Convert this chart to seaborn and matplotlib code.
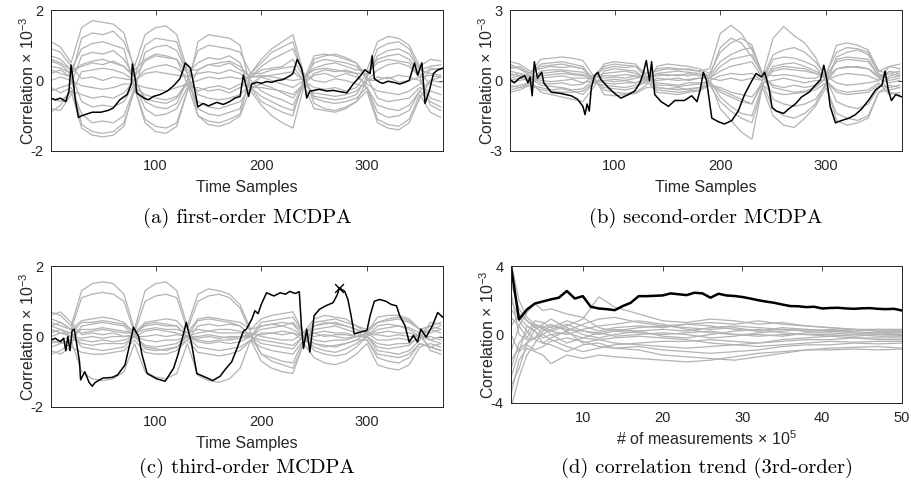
import numpy as np
import pandas as pd
import matplotlib
matplotlib.use('Agg')
import matplotlib.pyplot as plt
import seaborn as sns

# ---------------- data ----------------
# common time grid for the grey (wrong-key) traces
grid_t = [1, 10, 20, 30, 40, 50, 60, 70, 80, 90, 100, 110, 120, 130, 140, 150, 160, 170, 180,
          190, 200, 210, 220, 230, 240, 250, 260, 270, 280, 290, 300, 310, 320, 330, 340, 350, 360, 370]

# (a) first-order
a_black_t = [1, 5, 10, 15, 18, 20, 22, 24, 27, 30, 35, 40, 48, 55, 60, 66, 73, 77, 78, 81,
             82, 89, 93, 98, 104, 111, 117, 123, 126, 128, 133, 136, 140, 145, 150, 158, 164, 170, 175, 180,
             183, 186, 188, 191, 196, 200, 205, 210, 215, 220, 224, 228, 230, 234, 238, 240, 243, 246, 250, 255,
             262, 268, 275, 281, 287, 293, 298, 303, 305, 307, 312, 315, 320, 325, 331, 336, 340, 345, 348, 352,
             355, 359, 363, 367, 372]
a_black_v = [-0.5, -0.55, -0.5, -0.6, -0.3, 0.44, 0.0, -0.55, -1.05, -1.0, -0.95, -0.9, -0.9, -0.85, -0.78, -0.55, -0.4, -0.1, 0.47, 0.0,
             -0.35, -0.5, -0.55, -0.45, -0.4, -0.3, -0.15, 0.05, 0.3, 0.5, 0.35, -0.1, -0.75, -0.65, -0.72, -0.62, -0.68, -0.6, -0.5, -0.45,
             0.15, -0.2, -0.45, -0.1, -0.05, -0.08, -0.03, -0.05, 0.0, 0.02, 0.08, 0.15, 0.2, 0.6, 0.35, 0.1, -0.5, -0.3, -0.28, -0.25,
             -0.3, -0.28, -0.32, -0.35, -0.1, 0.1, 0.3, 0.2, 0.7, 0.05, -0.05, -0.08, -0.02, -0.05, -0.1, -0.05, 0.0, 0.5, 0.15, 0.5,
             -0.65, -0.3, 0.2, 0.3, 0.35]
a_gray = [
    [1.1, 0.95, 0.5, 1.5, 1.7, 1.65, 1.6, 1.35, 0.3, 0.6, 0.75, 0.7, 0.6, -0.1, -1.0, -1.15, -1.2, -1.1, -0.95, 0.2, 0.5, 0.8, 0.95, 1.1, 0.1, -0.45, -0.5, -0.55, -0.5, -0.4, 0.1, 0.7, 0.85, 0.9, 0.75, 0.3, 0.2, 0.15],
    [0.2, 0.3, 0.1, 1.2, 1.35, 1.3, 1.4, 1.1, 0.4, 1.3, 1.5, 1.55, 1.3, 0.3, 0.3, 0.45, 0.4, 0.5, 0.3, 0.1, 0.3, 0.35, 0.4, 0.6, 0.1, 0.3, 0.35, 0.3, 0.25, 0.2, -0.2, -0.9, -1.05, -1.0, -0.85, -0.3, -0.6, -0.75],
    [0.7, 0.6, 0.3, 0.9, 1.05, 1.1, 1.0, 0.9, -0.2, -1.2, -1.45, -1.5, -1.3, -0.3, 1.1, 1.3, 1.25, 1.2, 1.0, -0.2, -0.6, -0.75, -0.9, -1.0, 0.05, 0.35, 0.45, 0.5, 0.4, 0.3, 0.3, 1.1, 1.25, 1.2, 1.0, 0.4, 0.6, 0.55],
    [-0.3, -0.2, -0.1, 0.7, 0.8, 0.75, 0.85, 0.6, 0.1, 0.55, 0.7, 0.65, 0.6, 0.2, 0.5, 0.65, 0.6, 0.7, 0.5, -0.3, -0.7, -1.0, -1.2, -1.35, -0.2, 0.6, 0.7, 0.75, 0.65, 0.5, 0.1, -0.5, -0.6, -0.55, -0.5, -0.2, -0.3, -0.4],
    [0.4, 0.35, 0.2, 0.45, 0.55, 0.6, 0.5, 0.4, 0.1, 1.0, 1.2, 1.15, 1.1, 0.2, -0.8, -0.95, -1.0, -0.9, -0.8, 0.1, 0.4, 0.6, 0.75, 0.9, 0.2, -0.65, -0.8, -0.85, -0.75, -0.6, 0.0, 0.3, 0.45, 0.5, 0.4, 0.1, 0.15, 0.1],
    [-0.8, -0.85, -0.4, 0.25, 0.3, 0.35, 0.3, 0.2, 0.0, -0.5, -0.6, -0.65, -0.5, 0.0, 0.85, 1.0, 0.95, 0.9, 0.8, 0.2, 0.2, 0.3, 0.35, 0.4, 0.0, -0.2, -0.25, -0.2, -0.3, -0.2, 0.2, 0.6, 0.7, 0.75, 0.6, 0.2, -0.1, -0.2],
    [0.9, 0.8, 0.4, 0.05, 0.1, 0.0, 0.1, 0.05, 0.0, 0.2, 0.25, 0.2, 0.15, 0.1, 0.2, 0.25, 0.2, 0.3, 0.2, 0.0, -0.3, -0.45, -0.55, -0.7, -0.1, 0.15, 0.2, 0.1, 0.2, 0.1, -0.1, -0.3, -0.35, -0.4, -0.3, -0.1, 0.3, 0.35],
    [0.0, 0.1, 0.0, -0.15, -0.2, -0.25, -0.2, -0.1, -0.1, -0.8, -1.0, -0.95, -0.8, -0.2, -0.2, -0.3, -0.25, -0.35, -0.2, 0.2, 0.6, 0.9, 1.1, 1.3, 0.2, 0.0, -0.05, 0.05, 0.0, -0.1, -0.2, -1.1, -1.25, -1.3, -1.1, -0.4, -0.9, -1.05],
    [-0.5, -0.6, -0.3, -0.4, -0.5, -0.45, -0.5, -0.35, 0.0, 0.3, 0.4, 0.45, 0.35, 0.1, -0.4, -0.5, -0.55, -0.5, -0.4, -0.1, 0.1, 0.15, 0.2, 0.25, 0.0, 0.5, 0.6, 0.55, 0.5, 0.4, 0.1, 0.9, 1.05, 1.1, 0.9, 0.3, 0.4, 0.45],
    [0.55, 0.45, 0.2, -0.6, -0.75, -0.7, -0.75, -0.6, -0.1, -0.2, -0.25, -0.3, -0.2, -0.1, -0.6, -0.75, -0.8, -0.7, -0.6, -0.2, -0.45, -0.6, -0.75, -0.85, -0.1, -0.35, -0.4, -0.45, -0.4, -0.3, 0.0, 0.1, 0.05, 0.15, 0.1, 0.0, -0.5, -0.6],
    [-0.2, -0.35, -0.2, -0.95, -1.2, -1.15, -1.2, -1.0, -0.2, -0.4, -0.5, -0.55, -0.45, -0.1, 0.0, 0.1, 0.05, 0.1, 0.05, 0.1, 0.15, 0.1, 0.05, 0.0, 0.05, -0.5, -0.6, -0.65, -0.6, -0.5, -0.2, -0.7, -0.8, -0.85, -0.7, -0.3, 0.0, -0.05],
    [0.3, 0.2, 0.1, -1.25, -1.45, -1.5, -1.45, -1.2, -0.3, 0.8, 0.95, 1.0, 0.85, 0.2, -1.0, -1.25, -1.3, -1.2, -1.0, -0.2, -0.2, -0.25, -0.3, -0.4, -0.1, 0.2, 0.3, 0.25, 0.3, 0.2, 0.2, 0.5, 0.6, 0.55, 0.5, 0.1, 0.35, 0.3],
    [-0.9, -0.7, -0.3, -1.35, -1.55, -1.6, -1.55, -1.3, -0.2, -1.1, -1.3, -1.35, -1.2, -0.3, 0.3, 0.45, 0.5, 0.55, 0.4, 0.1, 0.1, 0.0, -0.1, -0.2, 0.0, 0.7, 0.75, 0.7, 0.6, 0.5, 0.0, 0.0, 0.1, -0.05, 0.0, 0.1, -0.7, -0.85],
    [0.6, 0.5, 0.3, 0.4, 0.5, 0.45, 0.55, 0.4, 0.1, -0.6, -0.75, -0.8, -0.65, 0.0, -0.3, -0.2, -0.15, -0.25, -0.1, -0.2, -0.1, -0.2, -0.35, -0.5, -0.1, -0.8, -0.85, -0.9, -0.8, -0.6, -0.3, -1.2, -1.35, -1.4, -1.2, -0.5, 0.0, 0.1],
]

# (b) second-order
b_black_t = [1, 5, 10, 15, 18, 20, 22, 24, 27, 31, 33, 40, 49, 59, 65, 70, 72, 74, 76, 78,
             81, 84, 87, 94, 100, 106, 113, 119, 124, 127, 130, 133, 135, 138, 144, 151, 157, 166, 173, 178,
             181, 184, 187, 192, 198, 204, 211, 217, 223, 230, 234, 239, 242, 246, 249, 253, 260, 265, 271, 277,
             284, 290, 295, 298, 301, 304, 309, 315, 322, 328, 334, 341, 347, 353, 356, 359, 362, 366, 372]
b_black_v = [0.05, -0.1, 0.1, 0.2, -0.1, 0.15, -0.65, 0.8, 0.1, 0.35, -0.1, -0.5, -0.55, -0.65, -0.8, -1.1, -1.45, -1.0, -1.3, -0.3,
             0.2, 0.35, 0.05, -0.3, -0.55, -0.75, -0.6, -0.45, -0.1, 0.3, 0.85, 0.0, 0.8, -0.6, -0.9, -1.1, -0.85, -0.85, -0.65, -0.9,
             -0.4, 0.35, 0.0, -1.6, -1.75, -1.85, -1.7, -1.3, -0.6, 0.0, 0.3, 0.15, 0.35, -0.3, -1.15, -1.3, -1.4, -1.2, -1.0, -0.7,
             -0.5, -0.2, 0.05, 0.65, 0.0, -1.1, -1.8, -1.7, -1.6, -1.45, -1.2, -0.8, -0.4, -0.2, 0.4, -0.4, -0.85, -0.6, -0.7]
b_gray = [
    [0.5, 0.6, 0.3, 0.9, 0.95, 1.0, 0.95, 0.85, 0.2, 0.5, 0.6, 0.55, 0.6, 0.3, 0.4, 0.5, 0.45, 0.5, 0.4, 0.5, 2.0, 2.35, 2.0, 1.3, 0.3, -0.3, -0.4, -0.5, -0.45, -0.3, 0.1, 0.5, 0.6, 0.55, 0.5, 0.2, 0.3, 0.4],
    [0.8, 0.7, 0.4, 0.5, 0.6, 0.55, 0.6, 0.5, 0.1, 0.7, 0.8, 0.75, 0.7, 0.2, -0.3, -0.35, -0.3, -0.4, -0.3, 0.0, -1.2, -1.7, -2.2, -2.5, -0.2, 0.5, 0.6, 0.55, 0.5, 0.3, 0.2, 1.5, 1.6, 1.5, 1.3, 0.4, 0.6, 0.5],
    [0.2, 0.3, 0.1, 0.3, 0.35, 0.4, 0.3, 0.25, 0.0, -0.4, -0.5, -0.55, -0.5, -0.2, 0.6, 0.7, 0.65, 0.6, 0.5, 0.3, 1.2, 1.6, 1.8, 1.5, 0.2, 1.8, 2.3, 1.9, 1.6, 1.0, 0.0, -0.5, -0.6, -0.55, -0.5, -0.2, -0.3, -0.2],
    [-0.3, -0.2, -0.1, 0.1, 0.15, 0.2, 0.1, 0.1, 0.1, 0.3, 0.35, 0.4, 0.3, 0.1, 0.2, 0.25, 0.2, 0.3, 0.2, 0.2, 0.8, 1.1, 1.3, 1.4, 0.3, -0.8, -1.0, -1.1, -1.0, -0.8, -0.2, 1.0, 1.2, 1.3, 1.1, 0.3, 0.0, 0.1],
    [0.4, 0.3, 0.2, -0.1, -0.15, -0.1, -0.2, -0.15, 0.2, 0.1, 0.15, 0.1, 0.2, 0.0, -0.5, -0.55, -0.6, -0.5, -0.45, -0.2, -0.9, -1.3, -1.6, -1.8, -0.3, -1.5, -1.9, -2.0, -1.6, -1.1, -0.3, -1.4, -1.6, -1.7, -1.5, -0.5, -0.4, -0.3],
    [-0.5, -0.4, -0.2, -0.3, -0.4, -0.35, -0.45, -0.6, -0.1, -0.2, -0.25, -0.3, -0.2, -0.1, 0.1, 0.05, 0.1, 0.0, 0.1, 0.1, 0.4, 0.6, 0.7, 0.8, 0.1, 1.1, 1.3, 1.4, 1.2, 0.8, 0.2, 0.8, 0.9, 0.85, 0.8, 0.2, -0.5, -0.6],
    [0.6, 0.5, 0.3, 0.7, 0.75, 0.8, 0.7, 0.6, 0.0, 0.0, 0.05, 0.0, 0.1, 0.2, -0.1, -0.15, -0.2, -0.1, -0.1, -0.1, -0.5, -0.7, -0.9, -1.0, 0.0, 0.4, 0.5, 0.45, 0.4, 0.3, 0.1, -0.9, -1.1, -1.2, -1.0, -0.3, 0.2, 0.3],
    [0.0, 0.1, 0.0, -0.5, -0.6, -0.7, -0.8, -0.9, -0.3, 0.4, 0.5, 0.45, 0.4, 0.0, 0.3, 0.35, 0.4, 0.35, 0.3, 0.0, 0.2, 0.3, 0.25, 0.3, 0.0, 0.9, 1.0, 0.95, 0.8, 0.6, 0.0, 0.2, 0.3, 0.25, 0.2, 0.0, 0.6, 0.7],
    [-0.2, -0.3, -0.1, 0.2, 0.25, 0.3, 0.25, 0.2, 0.2, -0.6, -0.65, -0.6, -0.55, -0.3, -0.3, -0.35, -0.4, -0.35, -0.3, -0.2, -0.3, -0.5, -0.6, -0.7, -0.1, -1.2, -1.5, -1.6, -1.4, -1.0, -0.1, -1.7, -1.9, -1.8, -1.6, -0.5, -0.2, -0.3],
    [0.3, 0.2, 0.2, 0.6, 0.65, 0.7, 0.6, 0.5, 0.0, -0.1, -0.15, -0.1, -0.1, 0.0, 0.5, 0.55, 0.5, 0.45, 0.4, 0.2, 1.4, 1.8, 1.6, 1.0, 0.3, 0.2, 0.25, 0.2, 0.1, 0.1, 0.3, 1.2, 1.4, 1.35, 1.2, 0.4, 0.3, 0.2],
    [-0.1, 0.0, 0.1, -0.2, -0.25, -0.3, -0.4, -0.35, 0.0, 0.6, 0.7, 0.65, 0.6, 0.1, -0.2, -0.2, -0.25, -0.2, -0.15, 0.0, -0.7, -1.1, -1.4, -1.5, -0.2, -0.5, -0.6, -0.55, -0.5, -0.4, -0.1, 0.5, 0.55, 0.6, 0.5, 0.1, -0.1, 0.0],
    [0.1, 0.2, 0.0, 0.4, 0.45, 0.45, 0.4, 0.35, 0.1, 0.2, 0.2, 0.25, 0.2, 0.1, 0.0, 0.05, 0.0, 0.05, 0.1, 0.1, 0.0, 0.1, 0.0, 0.1, 0.0, 0.6, 0.7, 0.75, 0.6, 0.4, 0.2, -0.1, -0.2, -0.15, -0.1, 0.0, 0.4, 0.3],
    [0.7, 0.5, 0.2, 0.0, -0.05, 0.0, 0.05, -0.1, 0.0, -0.3, -0.35, -0.4, -0.3, 0.0, 0.3, 0.2, 0.25, 0.2, 0.3, 0.1, 0.6, 0.9, 1.0, 1.1, 0.2, -0.2, -0.3, -0.2, -0.3, -0.2, 0.1, 0.9, 1.0, 0.95, 0.9, 0.2, 0.1, 0.2],
    [-0.4, -0.3, -0.2, -0.4, -0.45, -0.5, -0.5, -0.45, -0.1, 0.0, -0.05, 0.0, -0.1, 0.1, -0.4, -0.45, -0.5, -0.45, -0.4, -0.1, -0.4, -0.6, -0.8, -1.0, -0.1, 0.0, 0.1, 0.0, -0.1, 0.0, 0.0, -0.4, -0.5, -0.45, -0.4, -0.1, -0.6, -0.5],
]

# (c) third-order
c_black_t = [1, 5, 10, 13, 15, 17, 19, 21, 23, 26, 28, 29, 33, 37, 40, 43, 50, 59, 64, 71,
             76, 79, 84, 87, 92, 101, 109, 117, 121, 126, 129, 134, 139, 149, 154, 161, 166, 172, 177, 183,
             186, 191, 194, 197, 200, 205, 212, 218, 223, 227, 232, 236, 238, 240, 243, 246, 250, 255, 261, 268,
             272, 274, 279, 282, 285, 288, 293, 300, 303, 307, 312, 318, 323, 328, 331, 336, 340, 344, 348, 351,
             356, 362, 367, 372]
c_black_v = [-0.1, -0.05, -0.15, -0.05, -0.4, 0.0, -0.4, 0.17, 0.21, -0.34, -0.72, -1.23, -1.0, -1.3, -1.41, -1.3, -1.18, -1.16, -1.09, -0.81,
             -0.16, 0.26, 0.0, -0.5, -1.05, -1.2, -1.27, -0.9, -0.53, 0.03, 0.4, -0.2, -1.05, -1.18, -1.25, -1.13, -0.93, -0.72, -0.34, 0.15,
             0.21, 0.49, 0.73, 0.65, 0.91, 1.24, 1.15, 1.24, 1.2, 1.28, 1.22, 1.27, 0.3, -0.34, 0.21, -0.44, 0.59, 0.77, 0.87, 0.96,
             1.19, 1.38, 1.28, 1.05, 0.59, 0.07, 0.12, 0.17, 0.59, 1.0, 1.05, 1.0, 0.91, 0.87, 0.59, 0.31, -0.16, 0.03, -0.16, 0.21,
             -0.02, 0.31, 0.68, 0.54]
c_peak_t = [274]
c_peak_v = [1.38]
c_gray = [
    [0.7, 0.6, 0.3, 1.3, 1.5, 1.55, 1.5, 1.2, 0.2, 1.3, 1.5, 1.55, 1.3, 0.3, 1.2, 1.35, 1.3, 1.2, 0.9, 0.2, 0.3, 0.35, 0.3, 0.4, 0.1, -0.2, -0.3, -0.25, -0.2, -0.1, 0.1, 0.4, 0.45, 0.5, 0.4, 0.2, 0.3, 0.2],
    [0.3, 0.4, 0.2, 1.1, 1.2, 1.25, 1.2, 1.0, 0.1, 1.0, 1.15, 1.2, 1.1, 0.2, 1.0, 1.15, 1.2, 1.1, 0.8, 0.1, -0.5, -0.7, -0.8, -0.9, -0.2, 0.3, 0.4, 0.35, 0.3, 0.2, -0.1, -0.6, -0.7, -0.75, -0.6, -0.2, -0.3, -0.4],
    [-0.3, -0.2, -0.1, -1.0, -1.2, -1.25, -1.2, -1.0, -0.2, -1.0, -1.15, -1.2, -1.05, -0.2, -1.1, -1.25, -1.3, -1.2, -0.9, -0.1, -0.7, -0.9, -1.0, -1.05, -0.2, -0.6, -0.75, -0.8, -0.7, -0.5, -0.2, -0.8, -0.9, -0.95, -0.8, -0.3, -0.2, -0.3],
    [0.5, 0.4, 0.2, 0.45, 0.5, 0.55, 0.5, 0.4, 0.1, 0.4, 0.45, 0.5, 0.45, 0.1, 0.5, 0.55, 0.5, 0.45, 0.4, 0.2, 0.5, 0.6, 0.65, 0.7, 0.1, 0.5, 0.6, 0.55, 0.5, 0.3, 0.2, 0.4, 0.5, 0.55, 0.45, 0.2, 0.1, 0.2],
    [-0.5, -0.4, -0.2, 0.3, 0.35, 0.4, 0.35, 0.3, 0.0, -0.3, -0.35, -0.4, -0.3, -0.1, 0.3, 0.35, 0.3, 0.35, 0.3, 0.0, 0.2, 0.25, 0.3, 0.2, 0.0, -0.4, -0.5, -0.55, -0.5, -0.3, 0.0, 0.3, 0.35, 0.3, 0.25, 0.1, -0.4, -0.5],
    [0.2, 0.1, 0.0, 0.2, 0.2, 0.25, 0.2, 0.15, 0.1, 0.3, 0.35, 0.3, 0.3, 0.0, -0.3, -0.35, -0.4, -0.35, -0.3, -0.1, -0.3, -0.4, -0.45, -0.5, -0.1, 0.2, 0.25, 0.3, 0.2, 0.1, 0.0, -0.4, -0.45, -0.5, -0.4, -0.1, 0.4, 0.35],
    [0.6, 0.7, 0.4, 0.05, 0.1, 0.05, 0.1, 0.0, 0.0, 0.15, 0.2, 0.15, 0.1, 0.0, 0.1, 0.15, 0.1, 0.1, 0.1, 0.1, 0.0, -0.05, -0.1, -0.1, 0.1, 0.0, 0.05, 0.0, -0.05, 0.0, 0.1, 0.1, 0.15, 0.1, 0.1, 0.0, 0.0, -0.1],
    [-0.1, -0.2, -0.1, -0.1, -0.15, -0.1, -0.15, -0.1, 0.0, -0.1, -0.15, -0.1, -0.1, 0.0, 0.0, 0.05, 0.0, -0.05, 0.0, 0.0, 0.4, 0.45, 0.5, 0.55, 0.1, -0.1, -0.15, -0.1, -0.1, 0.0, 0.0, -0.2, -0.25, -0.2, -0.2, 0.0, 0.2, 0.1],
    [0.1, 0.2, 0.1, -0.3, -0.35, -0.4, -0.35, -0.3, 0.0, 0.0, 0.05, 0.0, 0.05, 0.0, -0.15, -0.2, -0.15, -0.2, -0.15, 0.0, -0.1, -0.15, -0.2, -0.25, 0.0, 0.4, 0.45, 0.5, 0.4, 0.3, 0.1, 0.55, 0.6, 0.6, 0.5, 0.2, -0.1, 0.0],
    [-0.4, -0.5, -0.3, -0.45, -0.5, -0.5, -0.45, -0.4, -0.1, -0.45, -0.5, -0.5, -0.4, -0.1, -0.45, -0.5, -0.55, -0.5, -0.4, -0.1, 0.1, 0.1, 0.15, 0.1, -0.1, -0.2, -0.25, -0.3, -0.2, -0.1, -0.1, -0.5, -0.55, -0.6, -0.5, -0.2, -0.3, -0.2],
    [0.4, 0.3, 0.2, 0.1, 0.15, 0.2, 0.15, 0.1, 0.1, 0.2, 0.25, 0.2, 0.2, 0.1, 0.2, 0.15, 0.2, 0.2, 0.15, 0.0, -0.5, -0.6, -0.7, -0.75, -0.1, 0.1, 0.15, 0.1, 0.1, 0.0, 0.0, 0.2, 0.25, 0.3, 0.2, 0.0, 0.2, 0.3],
    [-0.2, -0.1, 0.0, -0.2, -0.25, -0.2, -0.2, -0.2, 0.0, -0.25, -0.3, -0.25, -0.2, 0.0, -0.1, -0.15, -0.1, -0.1, -0.05, 0.0, 0.3, 0.35, 0.4, 0.35, 0.0, -0.3, -0.4, -0.45, -0.35, -0.2, 0.0, -0.3, -0.35, -0.3, -0.25, 0.0, -0.1, -0.2],
    [0.0, 0.1, 0.1, 0.4, 0.4, 0.45, 0.4, 0.35, 0.1, -0.35, -0.4, -0.35, -0.3, 0.0, 0.45, 0.5, 0.45, 0.4, 0.3, 0.0, -0.2, -0.25, -0.3, -0.35, 0.0, 0.3, 0.35, 0.4, 0.3, 0.2, 0.1, -0.1, -0.1, -0.05, -0.1, 0.1, 0.3, 0.4],
    [0.3, 0.2, 0.0, -0.05, 0.0, -0.05, 0.0, 0.0, 0.05, 0.35, 0.4, 0.35, 0.3, 0.0, -0.05, 0.0, -0.05, 0.0, 0.0, 0.05, 0.05, 0.1, 0.05, 0.1, 0.0, 0.1, 0.0, 0.05, 0.05, 0.0, 0.05, 0.05, 0.0, 0.05, 0.0, 0.0, -0.3, -0.4],
]

# (d) correlation trend vs number of measurements (x 10^5)
d_black_n = list(range(1, 51))
d_black_v = [4.0, 0.88, 1.46, 1.81, 1.93, 2.05, 2.15, 2.54, 2.1, 2.24, 1.62, 1.52, 1.48, 1.42, 1.66, 1.85, 2.24, 2.24, 2.26, 2.28,
             2.4, 2.35, 2.3, 2.44, 2.4, 2.15, 2.38, 2.28, 2.25, 2.19, 2.1, 2.0, 1.92, 1.85, 1.75, 1.66, 1.65, 1.6, 1.62, 1.52,
             1.55, 1.56, 1.52, 1.5, 1.53, 1.54, 1.5, 1.48, 1.5, 1.4]
d_grid_n = [1, 2, 3, 4, 5, 6, 8, 10, 12, 14, 17, 20, 23, 26, 29, 32, 35, 38, 41, 44, 47, 50]
d_gray = [
    [4.2, 2.0, 1.0, 0.6, 0.3, 0.2, 0.5, 0.9, 2.2, 1.6, 1.2, 0.8, 0.7, 0.9, 0.8, 0.6, 0.7, 0.5, 0.4, 0.3, 0.3, 0.3],
    [-3.5, -1.5, -0.8, -1.0, -1.2, -1.7, -1.2, -1.4, -1.2, -1.3, -1.4, -1.5, -1.6, -1.5, -1.3, -1.1, -1.0, -0.9, -0.9, -0.85, -0.9, -0.85],
    [2.0, 1.0, 0.5, 0.2, -0.2, 0.0, 0.1, -0.2, -0.3, -0.5, -0.6, -0.7, -0.8, -0.7, -0.6, -0.5, -0.4, -0.3, -0.3, -0.2, -0.2, -0.2],
    [-4.3, -2.5, -1.2, -0.5, 0.2, 0.5, 0.3, 0.2, 0.0, 0.2, 0.4, 0.5, 0.6, 0.7, 0.6, 0.8, 0.6, 0.5, 0.4, 0.3, 0.2, 0.1],
    [1.0, 0.5, 1.3, 1.8, 1.4, 1.5, 1.2, 1.0, 0.4, 0.2, 0.1, 0.0, 0.1, 0.2, 0.0, 0.0, -0.1, 0.1, 0.1, 0.0, 0.1, 0.0],
    [-2.5, -1.0, 0.5, 0.2, -0.5, -0.6, -1.0, -0.6, -0.5, -0.8, -0.9, -1.2, -1.3, -1.4, -1.5, -1.3, -1.1, -0.9, -0.8, -0.75, -0.7, -0.8],
    [3.0, 1.5, 0.8, 0.4, 0.6, 0.9, 0.4, 0.0, -0.2, 0.0, 0.2, 0.3, 0.2, 0.4, 0.5, 0.4, 0.3, 0.2, 0.2, 0.3, 0.2, 0.2],
    [-1.5, -0.8, -0.5, 0.3, 0.5, 0.2, 0.0, 0.3, 0.5, 0.6, 0.8, 0.6, 0.3, 0.1, 0.0, -0.1, 0.0, 0.0, -0.1, 0.0, -0.1, -0.1],
    [0.5, 1.2, 0.8, 0.5, 0.0, -0.3, -0.7, -1.0, -0.8, -0.6, -0.5, -0.4, -0.4, -0.3, -0.4, -0.5, -0.3, -0.2, -0.1, -0.2, -0.3, -0.3],
    [-3.0, -2.0, -0.5, -0.2, 0.0, 0.3, 0.6, 0.2, 0.1, -0.1, 0.0, 0.1, 0.0, -0.2, -0.1, 0.1, 0.2, 0.3, 0.2, 0.1, 0.0, 0.0],
    [2.5, 0.0, -0.3, -0.2, 0.4, 0.6, 0.2, -0.5, -0.3, -0.2, -0.1, -0.2, -0.3, -0.5, -0.6, -0.7, -0.6, -0.5, -0.4, -0.45, -0.4, -0.4],
    [-2.0, -0.5, 0.1, 0.8, 0.7, 0.4, 0.8, 0.5, 0.2, 0.4, 0.5, 0.4, 0.6, 0.5, 0.3, 0.2, 0.4, 0.3, 0.2, 0.15, 0.1, 0.1],
    [0.0, -1.0, -0.6, -0.9, -0.7, -0.4, -0.2, -0.4, -0.7, -0.8, -0.7, -0.9, -1.0, -1.1, -1.0, -0.9, -0.7, -0.6, -0.6, -0.5, -0.55, -0.5],
    [1.5, 0.8, 0.2, -0.3, -0.5, -0.2, 0.2, 0.6, 0.9, 1.0, 0.7, 0.5, 0.4, 0.3, 0.4, 0.2, 0.3, 0.2, 0.3, 0.2, 0.3, 0.2],
    [-1.0, 0.5, -0.2, 0.6, 0.4, 0.0, -0.5, -0.2, 0.1, 0.3, 0.2, -0.1, -0.2, 0.0, 0.2, 0.3, 0.1, 0.0, 0.0, -0.1, 0.0, -0.05],
]

captions = ['(a) first-order MCDPA', '(b) second-order MCDPA',
            '(c) third-order MCDPA', '(d) correlation trend (3rd-order)']

# ---------------- style ----------------
sns.set_style('white')
plt.rcParams['font.family'] = ['Liberation Sans', 'DejaVu Sans']
plt.rcParams['mathtext.fontset'] = 'custom'
plt.rcParams['mathtext.rm'] = 'Liberation Sans'
plt.rcParams['mathtext.it'] = 'Liberation Sans:italic'
plt.rcParams['mathtext.bf'] = 'Liberation Sans:bold'
plt.rcParams['axes.linewidth'] = 0.7

GRAY = '#b3b3b3'
INK = '#262626'
W, H = 911, 491


def long_frame(x, lines):
    rows = []
    for i, ln in enumerate(lines):
        for xx, yy in zip(x, ln):
            rows.append((i, xx, yy))
    return pd.DataFrame(rows, columns=['trace', 'x', 'v'])


def rect(left, top, right, bottom):
    return [left / W, 1 - bottom / H, (right - left) / W, (bottom - top) / H]


def finish(ax, xlim, xticks, ylim, yticks, xlabel):
    ax.set_xlim(*xlim)
    ax.set_ylim(*ylim)
    ax.set_xticks(xticks)
    ax.set_yticks(yticks)
    ax.set_yticklabels([str(v) for v in yticks])
    ax.tick_params(direction='in', top=True, right=True, length=3.5, width=0.6,
                   labelsize=10.5, pad=5.5, color=INK, labelcolor=INK)
    for s in ax.spines.values():
        s.set_color(INK)
        s.set_visible(True)
    ax.set_xlabel(xlabel, fontsize=11.5, labelpad=5, color=INK)
    ax.set_ylabel('Correlation $\\times$ 10$^{\\mathrm{-3}}$', fontsize=11.5, labelpad=-4.5, color=INK)
    ax.grid(False)


fig = plt.figure(figsize=(W / 100, H / 100), dpi=100)
ax_a = fig.add_axes(rect(51, 10, 443, 151))
ax_b = fig.add_axes(rect(510, 10, 902, 151))
ax_c = fig.add_axes(rect(51, 266, 443, 407))
ax_d = fig.add_axes(rect(511, 266, 902, 403))

panels = [(ax_a, a_gray, a_black_t, a_black_v, 2),
          (ax_b, b_gray, b_black_t, b_black_v, 3),
          (ax_c, c_gray, c_black_t, c_black_v, 2)]
for ax, gray, bt, bv, lim in panels:
    df = long_frame(grid_t, gray)
    sns.lineplot(data=df, x='x', y='v', units='trace', estimator=None, color=GRAY,
                 linewidth=0.9, ax=ax, legend=False)
    sns.lineplot(x=bt, y=bv, color='black', linewidth=1.1, ax=ax, sort=False)
    finish(ax, (1, 372), [100, 200, 300], (-lim, lim), [-lim, 0, lim], 'Time Samples')

sns.scatterplot(x=c_peak_t, y=c_peak_v, marker='x', color='black', s=40, linewidth=1.0, ax=ax_c)

dfd = long_frame(d_grid_n, d_gray)
sns.lineplot(data=dfd, x='x', y='v', units='trace', estimator=None, color=GRAY,
             linewidth=0.9, ax=ax_d, legend=False)
sns.lineplot(x=d_black_n, y=d_black_v, color='black', linewidth=1.8, ax=ax_d)
finish(ax_d, (1, 50), [10, 20, 30, 40, 50], (-4, 4), [-4, 0, 4],
       '# of measurements $\\times$ 10$^{5}$')
ax_d.xaxis.labelpad = 3

for ax, cap, y in zip([ax_a, ax_b, ax_c, ax_d], captions, [218, 218, 468, 468]):
    pos = ax.get_position()
    fig.text(pos.x0 + pos.width / 2, 1 - y / H, cap, family='cmr10', fontsize=14.8,
             ha='center', va='center', color='black')

fig.savefig('out.png', dpi=100)
